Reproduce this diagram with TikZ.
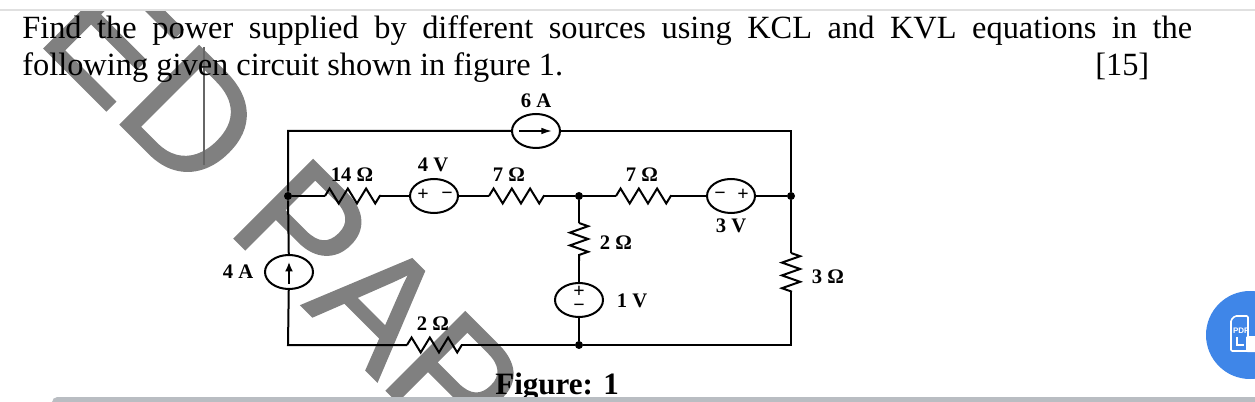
\documentclass[tikz,border=0pt]{standalone}
\usepackage{fontspec}
\setmainfont{Liberation Serif}
\newfontfamily\markfont[FakeBold=1.2,Kerning=Off]{Liberation Sans}
\newfontfamily\iconfont{Liberation Sans}
\usetikzlibrary{shapes.geometric,decorations.pathmorphing,arrows.meta}
\definecolor{markgray}{HTML}{808080}
\definecolor{bargray}{HTML}{B9BDC2}
\definecolor{iconblue}{HTML}{3F86E8}
\tikzset{
  wire/.style={line width=1.5pt},
  source/.style={ellipse,draw,line width=1.5pt,fill=none,minimum width=36pt,minimum height=25.5pt,inner sep=0pt},
  resistor/.style={line width=1.5pt,decorate,decoration={zigzag,segment length=13.7pt,amplitude=5.6pt}},
  upright/.style={line width=1.5pt,decorate,decoration={zigzag,segment length=9.6pt,amplitude=6.8pt}},
  junction/.style={circle,fill,inner sep=0pt,minimum size=6pt},
  value/.style={font=\fontsize{15.5}{17}\selectfont\bfseries,inner sep=0pt,anchor=center},
  polarity/.style={font=\fontsize{15}{15}\selectfont\bfseries,inner sep=0pt,anchor=center},
  prose/.style={font=\fontsize{24.3}{28}\selectfont,inner sep=0pt,anchor=base west}
}
\begin{document}
\begin{tikzpicture}[x=0.75pt,y=-0.75pt]
    \useasboundingbox (0,0) rectangle (1255,402);
    %% page edge
    \draw[line width=1.5pt,black!12] (0,10.5) -- (1255,10.5);
    %% watermark
    \begin{scope}
        \clip (0,12) rectangle (1255,402);
        \node[rotate=-45,anchor=base west,inner sep=0pt,text=markgray,font=\fontsize{121}{121}\selectfont\markfont] (stamp) at (35,39) {ED PAP};
    \end{scope}
    \draw[line width=0.8pt,black!60] (204,47) -- (204,165);
    %% text
    \node[prose] (lineone) at (22,39) {\makebox[877.5pt][s]{Find the power supplied by different sources using KCL and KVL equations in the}};
    \node[prose] (linetwo) at (22,76) {following given circuit shown in figure 1.};
    \node[prose] (marks) at (1095,76) {[15]};
    \node[prose,font=\fontsize{23.3}{26}\selectfont\bfseries] (figname) at (495,394) {Figure: 1};
    %% corners
    \coordinate (topleft) at (288,131);
    \coordinate (topright) at (791,131);
    \coordinate (botleft) at (288,345);
    \coordinate (botright) at (791,345);
    %% junctions
    \node[junction] (jleft) at (288,196) {};
    \node[junction] (jmid) at (579,196) {};
    \node[junction] (jright) at (791,196) {};
    \node[junction] (jbot) at (579,345) {};
    %% sources
    \node[source] (sixA) at (536,131) {};
    \node[source] (fourA) at (289,272) {};
    \node[source] (fourV) at (434,196) {};
    \node[source] (threeV) at (731,196) {};
    \node[source] (oneV) at (579,300) {};
    %% resistor ends
    \coordinate (rfourteenA) at (325,196);
    \coordinate (rfourteenB) at (381,196);
    \coordinate (rsevenA) at (489,196);
    \coordinate (rsevenB) at (544,196);
    \coordinate (rsevenC) at (616,196);
    \coordinate (rsevenD) at (671,196);
    \coordinate (rtwoA) at (579,223);
    \coordinate (rtwoB) at (579,261);
    \coordinate (rthreeA) at (791,253);
    \coordinate (rthreeB) at (791,292);
    \coordinate (rlowA) at (407,345);
    \coordinate (rlowB) at (462,345);
    %% resistors
    \draw[resistor] (rfourteenA) -- (rfourteenB);
    \draw[resistor] (rsevenA) -- (rsevenB);
    \draw[resistor] (rsevenC) -- (rsevenD);
    \draw[upright] (rtwoA) -- (rtwoB);
    \draw[upright] (rthreeA) -- (rthreeB);
    \draw[resistor] (rlowA) -- (rlowB);
    %% wires
    \draw[wire] (sixA) -- (topleft) -- (jleft) -- (fourA) -- (botleft) -- (rlowA);
    \draw[wire] (sixA) -- (topright) -- (jright) -- (rthreeA);
    \draw[wire] (rthreeB) -- (botright) -- (jbot) -- (rlowB);
    \draw[wire] (jleft) -- (rfourteenA);
    \draw[wire] (rfourteenB) -- (fourV);
    \draw[wire] (fourV) -- (rsevenA);
    \draw[wire] (rsevenB) -- (jmid) -- (rsevenC);
    \draw[wire] (rsevenD) -- (threeV);
    \draw[wire] (threeV) -- (jright);
    \draw[wire] (jmid) -- (rtwoA);
    \draw[wire] (rtwoB) -- (oneV);
    \draw[wire] (oneV) -- (jbot);
    %% source arrows
    \draw[line width=1.1pt,-{Latex[length=8pt,width=5pt]}] (sixA.west) ++(8,0) -- ++(33,0);
    \draw[line width=1.3pt,-{Latex[length=7pt,width=6pt]}] (fourA.south) ++(0,-6) -- ++(0,-22);
    %% polarity marks
    \node[polarity] (fourVp) at (423,195) {+};
    \node[polarity] (fourVm) at (447,196) {−};
    \node[polarity] (threeVm) at (720,196) {−};
    \node[polarity] (threeVp) at (743,195) {+};
    \node[polarity] (oneVp) at (579,292) {+};
    \node[polarity] (oneVm) at (579,308) {−};
    %% values
    \node[value] (vsixA) at (536,101) {6 A};
    \node[value] (vfourA) at (238,272) {4 A};
    \node[value] (vfourteen) at (352,175) {14 Ω};
    \node[value] (vfourV) at (433,165) {4 V};
    \node[value] (vsevenA) at (509,175) {7 Ω};
    \node[value] (vsevenB) at (642,175) {7 Ω};
    \node[value] (vthreeV) at (731,226) {3 V};
    \node[value] (vtwoA) at (616,243) {2 Ω};
    \node[value] (vthree) at (828,277) {3 Ω};
    \node[value] (voneV) at (632,301) {1 V};
    \node[value] (vtwoB) at (433,324) {2 Ω};
    %% viewer controls
    \fill[bargray,rounded corners=4pt] (52,397) rectangle (1270,410);
    \begin{scope}
        \clip (0,0) rectangle (1255,402);
        \fill[iconblue] (1250,335) circle (33pt);
        \draw[white,line width=1.2pt,rounded corners=1pt] (1235,316) -- (1248,316) -- (1248,351) -- (1231,351) -- (1231,320) -- cycle;
        \fill[white,rounded corners=1pt] (1246,336) rectangle (1260,352);
        \draw[white,line width=0.9pt] (1237,337) -- (1237,345) -- (1244,345);
    \end{scope}
    \node[font=\fontsize{6}{7}\selectfont\iconfont\bfseries,text=white,inner sep=0pt] (pdftag) at (1241,331) {PDF};
\end{tikzpicture}
\end{document}
